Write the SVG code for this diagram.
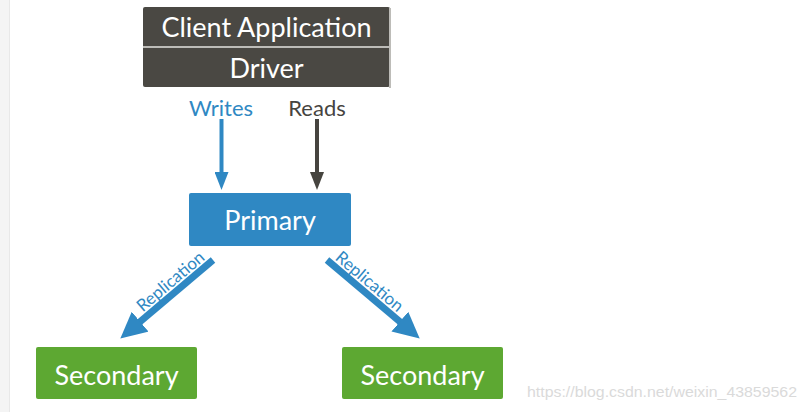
<svg xmlns="http://www.w3.org/2000/svg" width="806" height="412" viewBox="0 0 806 412">
  <style>
    .lbl { font-family: Lato, "Open Sans", "Liberation Sans", sans-serif; }
    .white { fill: #ffffff; }
    .node-text { font-size: 27px; text-anchor: middle; }
    .edge-text { font-size: 22px; text-anchor: middle; }
    .rep-text { font-size: 17px; text-anchor: middle; fill: #2f88c3; }
  </style>
  <defs>
    <marker id="headSmallBlue" markerUnits="userSpaceOnUse" markerWidth="18" markerHeight="14" refX="8" refY="7" orient="auto" viewBox="0 0 18 14">
      <path d="M0,0 L18,7 L0,14 z" fill="#2f88c3"/>
    </marker>
    <marker id="headSmallDark" markerUnits="userSpaceOnUse" markerWidth="18" markerHeight="14" refX="8" refY="7" orient="auto" viewBox="0 0 18 14">
      <path d="M0,0 L18,7 L0,14 z" fill="#46443f"/>
    </marker>
    <marker id="headBig" markerUnits="userSpaceOnUse" markerWidth="26" markerHeight="26" refX="12" refY="13" orient="auto" viewBox="0 0 26 26">
      <path d="M0,0 L26,13 L0,26 z" fill="#2f88c3"/>
    </marker>
  </defs>

  <rect x="0" y="0" width="806" height="412" fill="#ffffff"/>
  <rect x="0" y="0" width="9" height="412" fill="#f4f4f4"/>
  <rect x="9" y="0" width="1" height="412" fill="#e8e8e8"/>

  <g id="client">
    <rect x="143" y="7" width="247" height="80" rx="2" fill="#4a4843"/>
    <rect x="389" y="8" width="2" height="80" fill="#bdbcb8"/>
    <rect x="143" y="46" width="247" height="2" fill="#bdbcb8"/>
    <text class="lbl white node-text" x="266.5" y="37">Client Application</text>
    <text class="lbl white node-text" x="266.5" y="78">Driver</text>
  </g>

  <g id="primary">
    <rect x="189" y="193" width="162" height="53" rx="2" fill="#2f88c3"/>
    <text class="lbl white node-text" x="270" y="230">Primary</text>
  </g>

  <g id="secondary1">
    <rect x="36" y="347" width="161" height="52" rx="2" fill="#5da832"/>
    <text class="lbl white node-text" x="116.5" y="385">Secondary</text>
  </g>

  <g id="secondary2">
    <rect x="342" y="347" width="161" height="52" rx="2" fill="#5da832"/>
    <text class="lbl white node-text" x="422.5" y="385">Secondary</text>
  </g>

  <g id="connectors">
    <line x1="221.5" y1="119" x2="221.5" y2="180" stroke="#2f88c3" stroke-width="4" marker-end="url(#headSmallBlue)"/>
    <line x1="317" y1="119" x2="317" y2="180" stroke="#46443f" stroke-width="4" marker-end="url(#headSmallDark)"/>
    <line x1="213" y1="260" x2="131" y2="329.4" stroke="#2f88c3" stroke-width="7" marker-end="url(#headBig)"/>
    <line x1="327" y1="260" x2="409" y2="329.4" stroke="#2f88c3" stroke-width="7" marker-end="url(#headBig)"/>
    <text class="lbl edge-text" x="221" y="116" fill="#2f88c3">Writes</text>
    <text class="lbl edge-text" x="317" y="116" fill="#46443f">Reads</text>
    <text class="lbl rep-text" transform="translate(171,282) rotate(-40.2)" x="0" y="5">Replication</text>
    <text class="lbl rep-text" transform="translate(369,282) rotate(40.2)" x="0" y="5">Replication</text>
  </g>

  <text x="797" y="397" font-family="'Liberation Sans', sans-serif" font-size="14" fill="#dadada" text-anchor="end" textLength="270" lengthAdjust="spacingAndGlyphs">https://blog.csdn.net/weixin_43859562</text>
</svg>
